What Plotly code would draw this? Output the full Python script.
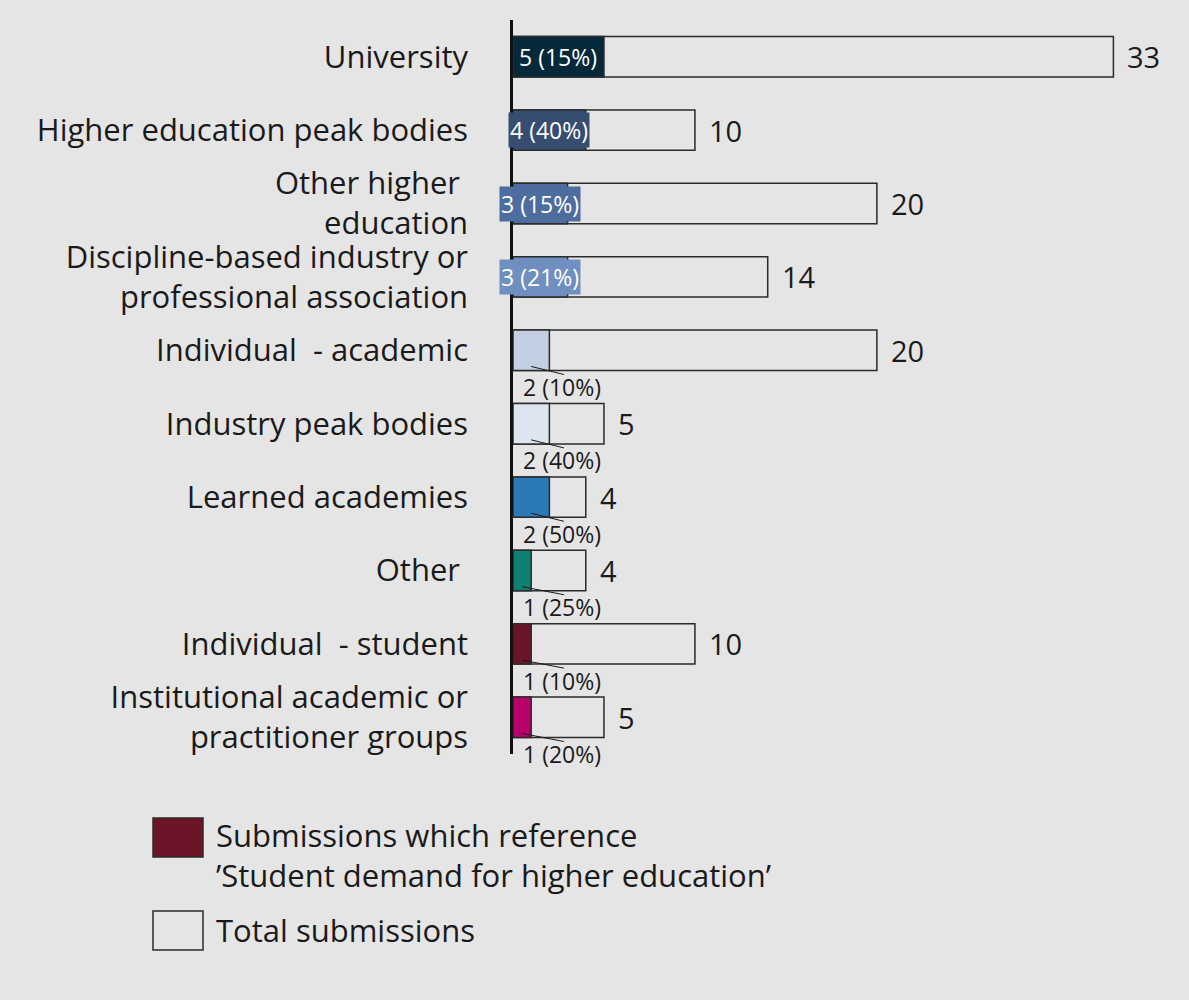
import plotly.graph_objects as go

# Submitter categories (top to bottom)
categories = [
    "University",
    "Higher education peak bodies",
    "Other higher\u00a0<br>education",
    "Discipline-based industry or<br>professional association",
    "Individual \u00a0- academic",
    "Industry peak bodies",
    "Learned academies",
    "Other\u00a0",
    "Individual \u00a0- student",
    "Institutional academic or<br>practitioner groups",
]
total_submissions = [33, 10, 20, 14, 20, 5, 4, 4, 10, 5]
demand_submissions = [5, 4, 3, 3, 2, 2, 2, 1, 1, 1]
demand_share_pct = [15, 40, 15, 21, 10, 40, 50, 25, 10, 20]
bar_colors = [
    "#06293a", "#374d70", "#4d6d9f", "#6f8fc0", "#c3cfe3",
    "#dfe5f0", "#2b79b5", "#0e7f70", "#6c1529", "#b8016b",
]
inside_label = [True, True, True, True, False, False, False, False, False, False]

BG = "#e5e5e5"
EDGE = "#2b2b2b"
FONT = "Open Sans"

rows = list(range(len(categories)))

fig = go.Figure()
fig.add_trace(go.Bar(
    y=rows, x=total_submissions, orientation="h", width=0.55,
    marker=dict(color=BG, line=dict(color=EDGE, width=1.5)),
    name="Total submissions", hoverinfo="skip",
))
fig.add_trace(go.Bar(
    y=rows, x=demand_submissions, orientation="h", width=0.55,
    marker=dict(color=bar_colors, line=dict(color=EDGE, width=1.5)),
    name="Submissions which reference 'Student demand for higher education'",
    hoverinfo="skip",
))

annotations = []
shapes = []
for i, (tot, n, pct, col, inside) in enumerate(
        zip(total_submissions, demand_submissions, demand_share_pct, bar_colors, inside_label)):
    annotations.append(dict(
        x=tot, y=i, xref="x", yref="y", text=str(tot), showarrow=False,
        xanchor="left", xshift=12, font=dict(family=FONT, size=29, color="#1a1a1a"),
    ))
    label = f"{n} ({pct}%)"
    if inside:
        annotations.append(dict(
            x=n / 2, y=i, xref="x", yref="y", text=label, showarrow=False,
            xanchor="center", bgcolor=col, borderpad=1,
            font=dict(family=FONT, size=23, color="white"),
        ))
    else:
        annotations.append(dict(
            x=0, y=i + 0.5, xref="x", yref="y", text=label, showarrow=False,
            xanchor="left", xshift=8, font=dict(family=FONT, size=23, color="#1a1a1a"),
        ))
        shapes.append(dict(
            type="line", xref="x", yref="y", x0=n / 2, x1=2.8, y0=i + 0.22, y1=i + 0.33,
            line=dict(color="#1a1a1a", width=1),
        ))

# Plot area in pixels, used to place the hand-drawn legend
L, R, T, B = 513, 1168, 20, 754


def px_x(p):
    return (p - L) / (R - L)


def px_y(p):
    return (B - p) / (B - T)


legend_items = [
    (818, 857, "#6c1529", "Submissions which reference<br>\u2019Student demand for higher education\u2019"),
    (911, 950, BG, "Total submissions"),
]
for top, bot, fill, text in legend_items:
    shapes.append(dict(
        type="rect", xref="paper", yref="paper",
        x0=px_x(153), x1=px_x(203), y0=px_y(bot), y1=px_y(top),
        fillcolor=fill, line=dict(color=EDGE, width=1.5),
    ))
    annotations.append(dict(
        xref="paper", yref="paper", x=px_x(214),
        y=px_y(top - 6) if "<br>" in text else px_y((top + bot) / 2),
        yanchor="top" if "<br>" in text else "middle",
        xanchor="left", align="left", text=text, showarrow=False,
        font=dict(family=FONT, size=31, color="#1a1a1a"),
    ))

fig.update_layout(
    width=1189, height=1000,
    margin=dict(l=L, r=1189 - R, t=T, b=1000 - B),
    paper_bgcolor=BG, plot_bgcolor=BG,
    barmode="overlay", showlegend=False,
    font=dict(family=FONT, color="#1a1a1a"),
    annotations=annotations, shapes=shapes,
    xaxis=dict(range=[0, 36], visible=False, fixedrange=True),
    yaxis=dict(
        tickvals=rows, ticktext=categories, range=[9.5, -0.5],
        showline=True, linecolor="#111111", linewidth=2.5,
        showgrid=False, zeroline=False, ticks="",
        ticklabelstandoff=36,
        tickfont=dict(family=FONT, size=31, color="#1a1a1a"),
    ),
)

fig.write_html("out.html")
